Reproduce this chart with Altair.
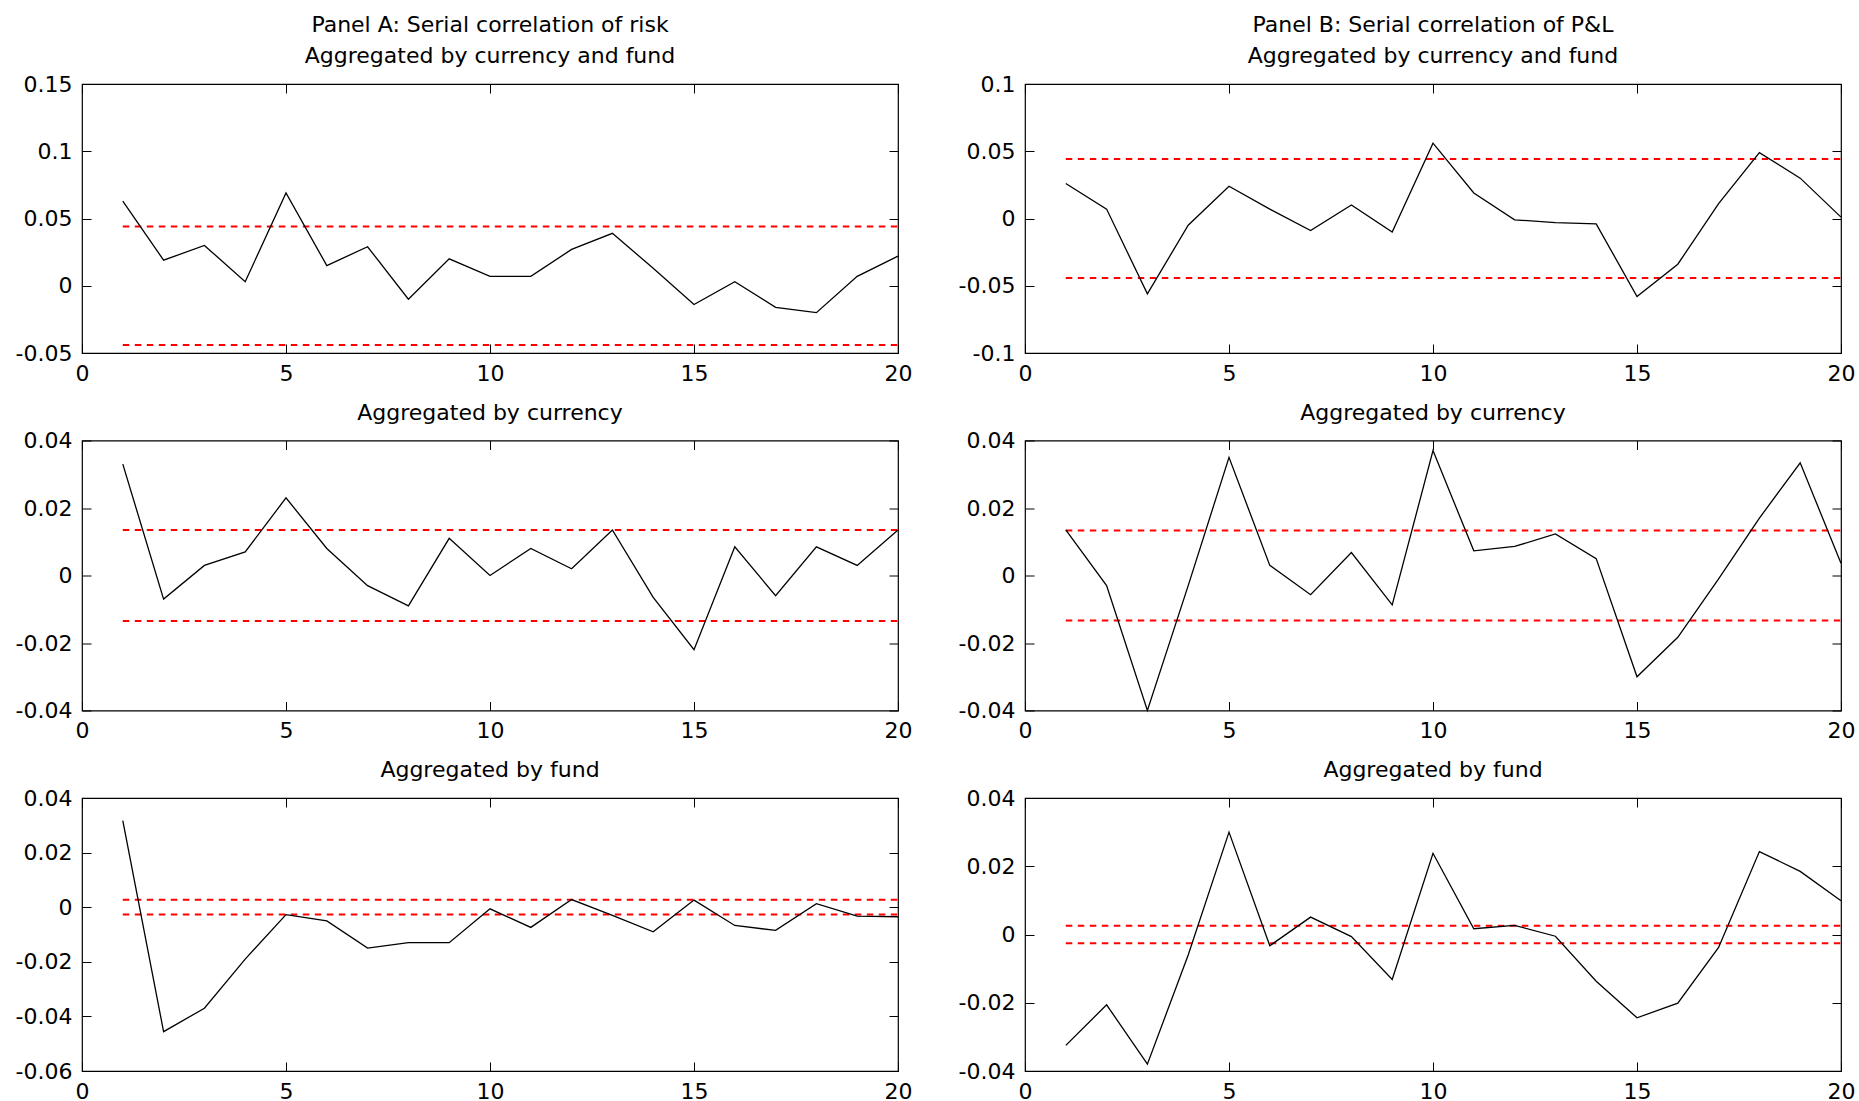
import altair as alt
import pandas as pd

lags = list(range(1, 21))

# Panel A: serial correlation of risk
risk_cf = [0.063, 0.019, 0.030, 0.003, 0.069, 0.015, 0.029, -0.010, 0.020, 0.007,
           0.007, 0.027, 0.039, 0.013, -0.014, 0.003, -0.016, -0.020, 0.007, 0.022]
risk_c = [0.033, -0.007, 0.003, 0.007, 0.023, 0.008, -0.003, -0.009, 0.011, 0.000,
          0.008, 0.002, 0.0135, -0.0065, -0.022, 0.0085, -0.006, 0.0085, 0.003, 0.0135]
risk_f = [0.0317, -0.0456, -0.037, -0.019, -0.0027, -0.005, -0.015, -0.013, -0.013, -0.0006,
          -0.0074, 0.0028, -0.003, -0.009, 0.0026, -0.0067, -0.0085, 0.0013, -0.0033, -0.0035]

# Panel B: serial correlation of P&L
pnl_cf = [0.026, 0.007, -0.056, -0.005, 0.024, 0.007, -0.009, 0.010, -0.010, 0.056,
          0.019, -0.001, -0.003, -0.004, -0.058, -0.034, 0.011, 0.049, 0.030, 0.001]
pnl_c = [0.0135, -0.003, -0.040, -0.003, 0.035, 0.003, -0.0057, 0.0068, -0.0087, 0.037,
         0.0073, 0.0086, 0.0123, 0.005, -0.030, -0.0183, -0.001, 0.017, 0.0334, 0.0036]
pnl_f = [-0.0325, -0.0206, -0.038, -0.006, 0.030, -0.0033, 0.0051, -0.0006, -0.0132, 0.0238,
         0.0017, 0.0027, -0.0005, -0.0137, -0.0244, -0.0201, -0.0038, 0.0243, 0.0185, 0.0099]

# confidence bounds (+/-)
bounds = {"risk_cf": 0.0441, "risk_c": 0.0135, "risk_f": 0.0027,
          "pnl_cf": 0.0443, "pnl_c": 0.0133, "pnl_f": 0.0026}

x_ticks = [0, 5, 10, 15, 20]
y_ticks_a1 = [-0.05, 0, 0.05, 0.1, 0.15]
y_ticks_b1 = [-0.1, -0.05, 0, 0.05, 0.1]
y_ticks_2 = [-0.04, -0.02, 0, 0.02, 0.04]
y_ticks_a3 = [-0.06, -0.04, -0.02, 0, 0.02, 0.04]

FONT = "DejaVu Sans"
FS = 22
W = 816


def panel(vals, bound, ticks, title, h):
    df = pd.DataFrame({"lag": lags, "rho": vals})
    bdf = pd.DataFrame({"lo": [lags[0], lags[0]], "hi": [lags[-1], lags[-1]], "b": [bound, -bound]})
    xs = alt.Scale(domain=[x_ticks[0], x_ticks[-1]], nice=False, zero=False)
    ys = alt.Scale(domain=[ticks[0], ticks[-1]], nice=False, zero=False)
    common = dict(domain=False, grid=False, tickSize=9, offset=-9, tickColor="black",
                  tickWidth=1, title=None, labelFont=FONT, labelFontSize=FS,
                  labelColor="black", labelFlush=False, labelOverlap=False, labelBound=False,
                  labelExpr="'' + datum.value")
    rules = alt.Chart(bdf).mark_rule(color="#ff0000", strokeWidth=2, strokeDash=[6.5, 5.5]).encode(
        x=alt.X("lo:Q", scale=xs, axis=alt.Axis(orient="top", values=x_ticks, labels=False, **common)),
        x2="hi:Q",
        y=alt.Y("b:Q", scale=ys, axis=alt.Axis(orient="right", values=ticks, labels=False, **common)),
    )
    line = alt.Chart(df).mark_line(color="black", strokeWidth=1.3).encode(
        x=alt.X("lag:Q", scale=xs, axis=alt.Axis(orient="bottom", values=x_ticks, labelPadding=10, **common)),
        y=alt.Y("rho:Q", scale=ys, axis=alt.Axis(orient="left", values=ticks, labelPadding=10, **common)),
    )
    return alt.layer(rules, line).resolve_axis(x="independent", y="independent").properties(
        width=W, height=h,
        title=alt.TitleParams(title, font=FONT, fontSize=FS, fontWeight="normal", color="black",
                              offset=5, lineHeight=31, anchor="middle"),
    )


charts = [
    panel(risk_cf, bounds["risk_cf"], y_ticks_a1,
          ["Panel A: Serial correlation of risk", "Aggregated by currency and fund"], 269),
    panel(pnl_cf, bounds["pnl_cf"], y_ticks_b1,
          ["Panel B: Serial correlation of P&L", "Aggregated by currency and fund"], 269),
    panel(risk_c, bounds["risk_c"], y_ticks_2, "Aggregated by currency", 270),
    panel(pnl_c, bounds["pnl_c"], y_ticks_2, "Aggregated by currency", 270),
    panel(risk_f, bounds["risk_f"], y_ticks_a3, "Aggregated by fund", 273),
    panel(pnl_f, bounds["pnl_f"], y_ticks_2, "Aggregated by fund", 273),
]

chart = alt.concat(*charts, columns=2, spacing={"row": 87.5, "column": 127}, bounds="flush").properties(
    padding={"left": 14, "top": 13, "right": 0, "bottom": 0},
    background="white",
).configure_view(stroke="black", strokeWidth=1.2)

chart.save("out.html", embed_options={"renderer": "svg", "actions": False})
